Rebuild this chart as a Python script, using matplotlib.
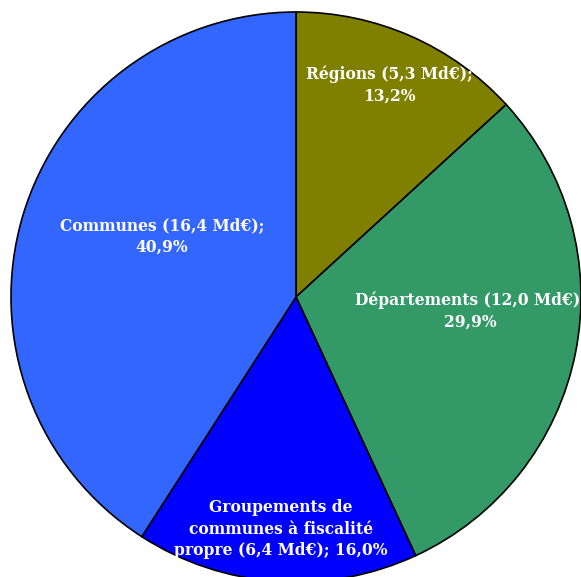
import matplotlib.pyplot as plt

# data
categories = ["Régions", "Départements", "Groupements de\ncommunes à fiscalité\npropre", "Communes"]
amounts = [5.3, 12.0, 6.4, 16.4]
shares = [13.2, 29.9, 16.0, 40.9]
colors = ["#808000", "#339966", "#0000FF", "#3366FF"]

labels = [
    "Régions (5,3 Md€);\n13,2%",
    "Départements (12,0 Md€);\n29,9%",
    "Groupements de\ncommunes à fiscalité\npropre (6,4 Md€); 16,0%",
    "Communes (16,4 Md€);\n40,9%",
]
label_pos = [(389, 492), (470, 266), (281, 48), (162, 341)]

fig = plt.figure(figsize=(5.81, 5.77), dpi=100)
ax = fig.add_axes([0, 0, 1, 1])

ax.pie(shares, colors=colors, startangle=90, counterclock=False,
       center=(296, 280), radius=285,
       wedgeprops=dict(edgecolor="black", linewidth=1.2))
ax.set_xlim(0, 581)
ax.set_ylim(0, 577)
ax.set_aspect("equal")
ax.axis("off")

for lab, (x, y) in zip(labels, label_pos):
    ax.text(x, y, lab, ha="center", va="center", color="white",
            fontsize=11.2, fontweight="bold", family="DejaVu Serif",
            linespacing=1.35)

plt.savefig("out.png", dpi=100)
